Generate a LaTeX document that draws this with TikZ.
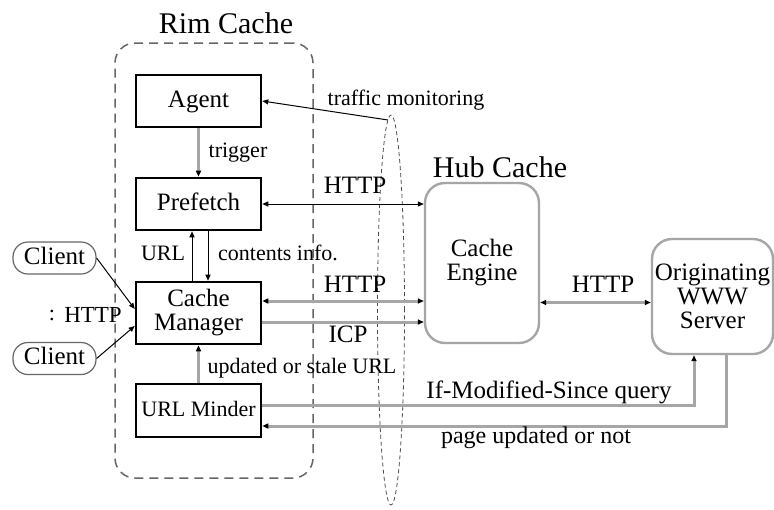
\documentclass[tikz,border=0pt]{standalone}
\usepackage{fontspec}
\setmainfont{Liberation Serif}
\usetikzlibrary{arrows.meta,shapes.geometric}
\begin{document}
\begin{tikzpicture}[x=1pt,y=-1pt,
  box/.style={draw=black, line width=2.6pt, minimum width=125pt, inner sep=0pt, align=center, font=\fontsize{25}{24}\selectfont},
  sbox/.style={box, text height=17pt, text depth=5pt},
  gbox/.style={draw=black!35, line width=2.4pt, rounded corners=20pt, inner sep=0pt, align=center},
  cli/.style={draw=black!60, line width=1.2pt, rounded corners=15pt, minimum width=83pt, minimum height=32pt, inner sep=0pt, text height=17pt, text depth=5pt, font=\fontsize{25}{25}\selectfont},
  lbl/.style={inner sep=0pt, anchor=base, font=\fontsize{22}{22}\selectfont},
  lblb/.style={inner sep=0pt, anchor=base, font=\fontsize{25}{25}\selectfont},
  ttl/.style={inner sep=0pt, anchor=base, font=\fontsize{30}{30}\selectfont},
  tip/.style={-{Triangle[length=6pt,width=5pt,color=black]}},
  tips/.style={{Triangle[length=6pt,width=5pt,color=black]}-{Triangle[length=6pt,width=5pt,color=black]}},
  thinc/.style={draw=black, line width=1pt},
  glin/.style={draw=black!35, line width=3pt},
]
\fill[white] (0,0) rectangle (774,509);
\useasboundingbox (0,0) rectangle (774,509);

% Rim cache region
\node[draw=black!60, line width=1.5pt, dash pattern=on 9pt off 6pt, rounded corners=20pt,
      minimum width=198pt, minimum height=435pt, inner sep=0pt] (rim) at (214,260.5) {};
\node[ttl] (rimt) at (226,33) {Rim Cache};

% monitoring ellipse
\node[ellipse, draw=black!70, line width=0.8pt, dash pattern=on 4pt off 3pt,
      minimum width=27pt, minimum height=390pt, inner sep=0pt] (mon) at (391,310) {};

% boxes
\node[sbox, minimum height=52pt] (Agent) at (198.5,101) {Agent};
\node[sbox, minimum height=52pt] (Prefetch) at (198.5,204) {Prefetch};
\node[box, minimum height=62pt] (CM) at (198.5,313) {Cache\\Manager};
\node[sbox, minimum height=53pt, font=\fontsize{22}{22}\selectfont] (URLM) at (198.5,410.5) {URL Minder};

\node[gbox, minimum width=114pt, minimum height=160pt, font=\fontsize{25}{24}\selectfont] (Hub) at (482,263) {Cache\\Engine};
\node[ttl] (hubt) at (500,177) {Hub Cache};

\node[gbox, minimum width=121pt, minimum height=115pt, font=\fontsize{25}{24}\selectfont] (Server) at (712.5,296.5) {Originating\\WWW\\Server};

\node[cli] (Client1) at (54.5,258) {Client};
\node[cli] (Client2) at (54.5,358.5) {Client};

% connectors
\draw[glin, tip] (Agent) -- (Prefetch);
\draw[thinc, tip] ([xshift=-6.5pt]CM.north) -- ([xshift=-6.5pt]Prefetch.south);
\draw[thinc, tip] ([xshift=9.5pt]Prefetch.south) -- ([xshift=9.5pt]CM.north);
\draw[glin, tip] (URLM) -- (CM);

\draw[thinc, tips] (Prefetch.east) -- (Prefetch.east -| Hub.west);

\coordinate (c1) at ([yshift=12pt]CM.east);
\draw[glin, tips] (c1) -- (c1 -| Hub.west);
\coordinate (c2) at ([yshift=-9pt]CM.east);
\draw[glin, tip] (c2) -- (c2 -| Hub.west);

\coordinate (h3) at ([yshift=-39.5pt]Hub.east);
\draw[glin, tips] (h3) -- (h3 -| Server.west);

\coordinate (u1) at ([yshift=5.5pt]URLM.east);
\coordinate (s1) at ([xshift=-18.5pt]Server.south);
\draw[glin, tip] (u1) -| (s1);
\coordinate (u2) at ([yshift=-15.5pt]URLM.east);
\coordinate (s2) at ([xshift=13.5pt]Server.south);
\draw[glin, tip] (s2) |- (u2);

\draw[thinc, tip] (Client1.east) -- ([yshift=4pt]CM.west);
\draw[thinc, tip] (Client2.east) -- ([yshift=-13pt]CM.west);

\coordinate (tm) at (388,120);
\draw[thinc, tip] (tm) -- (Agent.east);

% labels
\node[lbl] (ltrig) at (238,157) {trigger};
\node[lbl] (ltraf) at (406,105) {traffic monitoring};
\node[lblb] (lh1) at (355,193) {HTTP};
\node[lbl] (lurl) at (163,260) {URL};
\node[lbl] (lci) at (278,260) {contents info.};
\node[lblb] (lh2) at (355,292) {HTTP};
\node[lblb] (licp) at (348,342) {ICP};
\node[lblb] (lh3) at (603,292) {HTTP};
\node[lbl] (lupd) at (302,373) {updated or stale URL};
\node[lblb] (lims) at (549,398) {If-Modified-Since query};
\node[lbl, font=\fontsize{24}{24}\selectfont] (lpage) at (536,443) {page updated or not};
\node[lbl] (lcol) at (52,320) {:};
\node[lbl, font=\fontsize{23}{23}\selectfont] (lch) at (93,322) {HTTP};
\end{tikzpicture}
\end{document}
